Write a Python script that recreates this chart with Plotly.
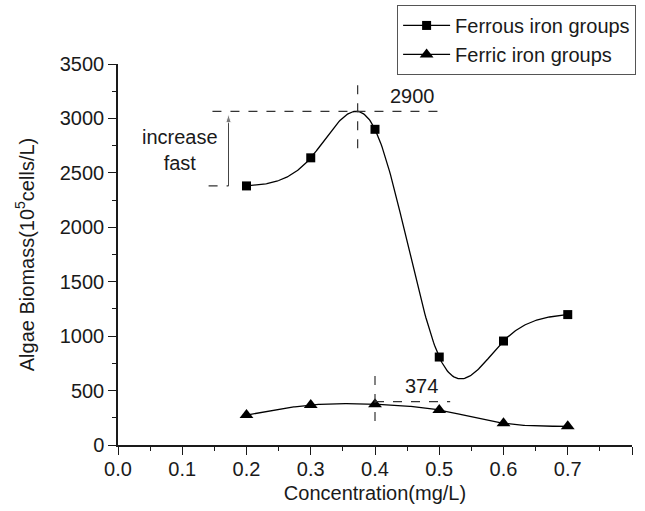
import numpy as np
import plotly.graph_objects as go

# Iron concentration (mg/L) and algae biomass (10^5 cells/L)
concentration = [0.2, 0.3, 0.4, 0.5, 0.6, 0.7]
ferrous_biomass = [2380, 2638, 2900, 808, 955, 1198]
ferric_biomass = [275, 367, 374, 321, 200, 172]

x_ticks = [0.0, 0.1, 0.2, 0.3, 0.4, 0.5, 0.6, 0.7, 0.8]
y_ticks = [0, 500, 1000, 1500, 2000, 2500, 3000, 3500]

# Guide lines around the ferrous peak and the ferric maximum
ferrous_peak_x = 0.373
ferrous_peak_y = 3065
ferric_peak_x = 0.4
ferric_peak_y = 398
arrow_x = 0.172

FONT = "Liberation Sans, Arial, sans-serif"
INK = "#1a1a1a"
FS = 20


def spline_line(xs, ys, samples=300):
    """Natural cubic spline through the points, sampled for drawing."""
    x = np.asarray(xs, float)
    y = np.asarray(ys, float)
    n = len(x)
    h = np.diff(x)
    A = np.zeros((n, n))
    b = np.zeros(n)
    A[0, 0] = 1.0
    A[-1, -1] = 1.0
    for i in range(1, n - 1):
        A[i, i - 1] = h[i - 1]
        A[i, i] = 2 * (h[i - 1] + h[i])
        A[i, i + 1] = h[i]
        b[i] = 6 * ((y[i + 1] - y[i]) / h[i] - (y[i] - y[i - 1]) / h[i - 1])
    M = np.linalg.solve(A, b)
    xx = np.linspace(x[0], x[-1], samples)
    idx = np.clip(np.searchsorted(x, xx) - 1, 0, n - 2)
    x0, x1 = x[idx], x[idx + 1]
    hh = x1 - x0
    yy = (M[idx] * (x1 - xx) ** 3 / (6 * hh) + M[idx + 1] * (xx - x0) ** 3 / (6 * hh)
          + (y[idx] / hh - M[idx] * hh / 6) * (x1 - xx)
          + (y[idx + 1] / hh - M[idx + 1] * hh / 6) * (xx - x0))
    return xx, yy


fig = go.Figure()

series = [
    ("Ferrous iron groups", ferrous_biomass, "square", 9),
    ("Ferric iron groups", ferric_biomass, "triangle-up", 12),
]
for name, values, symbol, size in series:
    cx, cy = spline_line(concentration, values)
    fig.add_trace(go.Scatter(x=cx, y=cy, mode="lines", showlegend=False,
                             hoverinfo="skip",
                             line=dict(color="black", width=1.3)))
    fig.add_trace(go.Scatter(x=concentration, y=values, mode="markers",
                             showlegend=False, name=name,
                             marker=dict(symbol=symbol, size=size, color="black")))
    # legend entry: line with marker
    fig.add_trace(go.Scatter(x=[None], y=[None], mode="lines+markers", name=name,
                             line=dict(color="black", width=1.3),
                             marker=dict(symbol=symbol, size=size, color="black")))

# "increase fast" arrow from the starting value up to the peak level
fig.add_trace(go.Scatter(
    x=[arrow_x, arrow_x], y=[ferrous_biomass[0], ferrous_peak_y - 25],
    mode="lines+markers", showlegend=False, hoverinfo="skip",
    line=dict(color="#444444", width=1),
    marker=dict(symbol="arrow", angleref="previous", size=[0, 9], color="#444444"),
))

dash = dict(color="#333333", width=1.2, dash="dash")
shapes = [
    dict(type="line", xref="x", yref="y", x0=0.147, x1=0.498,
         y0=ferrous_peak_y, y1=ferrous_peak_y, line=dash),
    dict(type="line", xref="x", yref="y", x0=ferrous_peak_x, x1=ferrous_peak_x,
         y0=2727, y1=3352, line=dash),
    dict(type="line", xref="x", yref="y", x0=0.141, x1=arrow_x,
         y0=ferrous_biomass[0], y1=ferrous_biomass[0], line=dash),
    dict(type="line", xref="x", yref="y", x0=ferric_peak_x, x1=ferric_peak_x,
         y0=220, y1=698, line=dash),
    dict(type="line", xref="x", yref="y", x0=ferric_peak_x, x1=0.517,
         y0=ferric_peak_y, y1=ferric_peak_y, line=dash),
]

annotations = [
    dict(x=0.097, y=2710, xref="x", yref="y", text="increase<br>fast",
         showarrow=False, font=dict(family=FONT, size=FS, color=INK)),
    dict(x=0.458, y=3210, xref="x", yref="y", text=str(ferrous_biomass[2]),
         showarrow=False, font=dict(family=FONT, size=FS, color=INK)),
    dict(x=0.473, y=540, xref="x", yref="y", text=str(ferric_biomass[2]),
         showarrow=False, font=dict(family=FONT, size=FS, color=INK)),
]

axis_common = dict(
    showline=True, linecolor=INK, linewidth=1.5, mirror=False,
    showgrid=False, zeroline=False, automargin=False,
    ticks="outside", ticklen=8, tickwidth=1.3, tickcolor=INK,
    tickfont=dict(family=FONT, size=FS, color=INK),
)

fig.update_layout(
    width=645, height=511,
    margin=dict(l=118, r=13, t=64, b=66, autoexpand=False),
    paper_bgcolor="white", plot_bgcolor="white",
    showlegend=True,
    legend=dict(
        x=0.543, y=1.155, xanchor="left", yanchor="top",
        bordercolor="#555555", borderwidth=1, bgcolor="white",
        font=dict(family=FONT, size=FS, color=INK),
        tracegroupgap=0, itemwidth=47,
    ),
    xaxis=dict(
        range=[0, 0.8], tickvals=x_ticks,
        ticktext=[f"{v:.1f}" for v in x_ticks],
        ticklabelstandoff=-3,
        minor=dict(dtick=0.05, ticks="outside", ticklen=4, tickcolor=INK, tickwidth=1.2),
        title=dict(text="Concentration(mg/L)", standoff=7,
                   font=dict(family=FONT, size=FS, color=INK)),
        **axis_common,
    ),
    yaxis=dict(
        range=[0, 3500], tickvals=y_ticks,
        minor=dict(dtick=250, ticks="outside", ticklen=4, tickcolor=INK, tickwidth=1.2),
        title=dict(text="Algae Biomass(10<sup>5</sup>cells/L)", standoff=20,
                   font=dict(family=FONT, size=FS, color=INK)),
        **axis_common,
    ),
    shapes=shapes,
    annotations=annotations,
)

fig.write_html("out.html")
